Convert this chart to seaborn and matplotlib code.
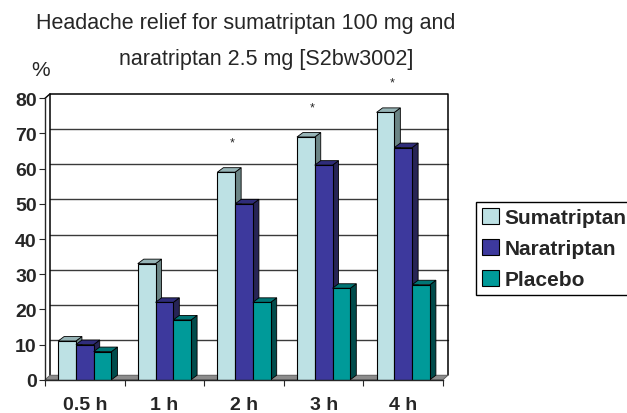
import numpy as np
import pandas as pd
import seaborn as sns
import matplotlib.pyplot as plt
from matplotlib.patches import Polygon
from matplotlib.lines import Line2D

# data
times = ['0.5 h', '1 h', '2 h', '3 h', '4 h']
drugs = ['Sumatriptan', 'Naratriptan', 'Placebo']
sumatriptan = [11, 33, 59, 69, 76]
naratriptan = [10, 22, 50, 61, 66]
placebo = [8, 17, 22, 26, 27]
signif = ['', '', '*', '*', '*']

front_cols = ['#BDE1E4', '#3D399D', '#009A99']
side_cols = ['#6B8585', '#272455', '#004B4B']
top_cols = ['#96B4B6', '#2F2C7A', '#007575']

df = pd.DataFrame({
    'time': times * 3,
    'drug': np.repeat(drugs, len(times)),
    'value': sumatriptan + naratriptan + placebo,
})

sns.set_style('white')
plt.rcParams['font.family'] = ['Liberation Sans', 'DejaVu Sans']

fig = plt.figure(figsize=(6.27, 4.14), dpi=100)
ax = fig.add_axes([0.0718, 0.0804, 0.6348, 0.6797])

sns.barplot(data=df, x='time', y='value', hue='drug', order=times, hue_order=drugs,
            palette=front_cols, saturation=1, width=0.67, edgecolor='black',
            linewidth=0.8, legend=False, ax=ax)
ax.set_xlim(-0.5, 4.5)
ax.set_ylim(0, 80)

# 3d depth, converted from pixels to data units
dx = 6.0 * 5.0 / ax.bbox.width
dy = 4.5 * 80.0 / ax.bbox.height
wx, wy = 5.0 * 5.0 / ax.bbox.width, 4.5 * 80.0 / ax.bbox.height

# back wall: gridlines and frame, and grey floor
for v in range(10, 80, 10):
    ax.add_line(Line2D([-0.5 + wx, 4.5 + wx], [v + wy, v + wy], color='#3a3a3a', lw=1,
                       zorder=0.5, clip_on=False))
ax.add_line(Line2D([-0.5 + wx, -0.5 + wx, 4.5 + wx, 4.5 + wx], [wy, 80 + wy, 80 + wy, wy],
                   color='black', lw=1.1, zorder=0.5, clip_on=False))
ax.add_line(Line2D([-0.5, -0.5 + wx], [80, 80 + wy], color='black', lw=1, clip_on=False))
ax.add_patch(Polygon([(-0.5, 0), (4.5, 0), (4.5 + wx, wy), (-0.5 + wx, wy)], closed=True,
                     facecolor='#8C8C8C', edgecolor='#555555', lw=0.6, zorder=0.6,
                     clip_on=False))

for i, cont in enumerate(ax.containers):
    for bar in cont:
        x0, w, h = bar.get_x(), bar.get_width(), bar.get_height()
        bar.set_zorder(3 + 2 * i)
        side = Polygon([(x0 + w, 0), (x0 + w + dx, dy), (x0 + w + dx, h + dy), (x0 + w, h)],
                       closed=True, facecolor=side_cols[i], edgecolor='black', lw=0.6,
                       zorder=2.5 + 2 * i, clip_on=False)
        top = Polygon([(x0, h), (x0 + w, h), (x0 + w + dx, h + dy), (x0 + dx, h + dy)],
                      closed=True, facecolor=top_cols[i], edgecolor='black', lw=0.6,
                      zorder=2.5 + 2 * i, clip_on=False)
        ax.add_patch(side)
        ax.add_patch(top)

# significance stars above sumatriptan bars
for bar, s in zip(ax.containers[0], signif):
    if s:
        ax.text(bar.get_x() + bar.get_width() * 0.85, bar.get_height() + 8.5, s,
                ha='center', va='center', fontsize=9, clip_on=False)

for sp in ['top', 'right']:
    ax.spines[sp].set_visible(False)
ax.spines['left'].set_linewidth(1)
ax.spines['bottom'].set_linewidth(1)
ax.spines['left'].set_zorder(20)
ax.spines['bottom'].set_zorder(20)

ax.set_yticks(range(0, 90, 10))
ax.set_yticklabels([str(v) for v in range(0, 90, 10)], fontsize=14, fontweight='bold')
ax.tick_params(axis='y', left=True, length=4, width=0.8, pad=2)
ax.set_xticks(range(len(times)))
ax.set_xticklabels(times, fontsize=14, fontweight='bold')
ax.set_xticks(np.arange(-0.5, 5, 1), minor=True)
ax.tick_params(axis='x', which='major', length=0, pad=12)
ax.tick_params(axis='x', which='minor', bottom=True, length=4, width=0.8)
ax.set_xlabel('')
ax.set_ylabel('')
ax.grid(False)

fig.text(246 / 627, 1 - 23 / 414, 'Headache relief for sumatriptan 100 mg and',
         ha='center', va='center', fontsize=15.5)
fig.text(266 / 627, 1 - 60 / 414, 'naratriptan 2.5 mg [S2bw3002]',
         ha='center', va='center', fontsize=15.5)
fig.text(41 / 627, 1 - 70 / 414, '%', ha='center', va='center', fontsize=15)

handles = [plt.Rectangle((0, 0), 1, 1, facecolor=c, edgecolor='black', lw=0.8)
           for c in front_cols]
fig.legend(handles, drugs, loc='upper left', bbox_to_anchor=(476 / 627, 1 - 203 / 414),
           frameon=True, fancybox=False, edgecolor='black', framealpha=1,
           prop={'weight': 'bold', 'size': 15}, handlelength=0.8, handleheight=0.8,
           handletextpad=0.25, borderpad=0.3, labelspacing=0.55, borderaxespad=0)

fig.savefig('out.png', dpi=100)
